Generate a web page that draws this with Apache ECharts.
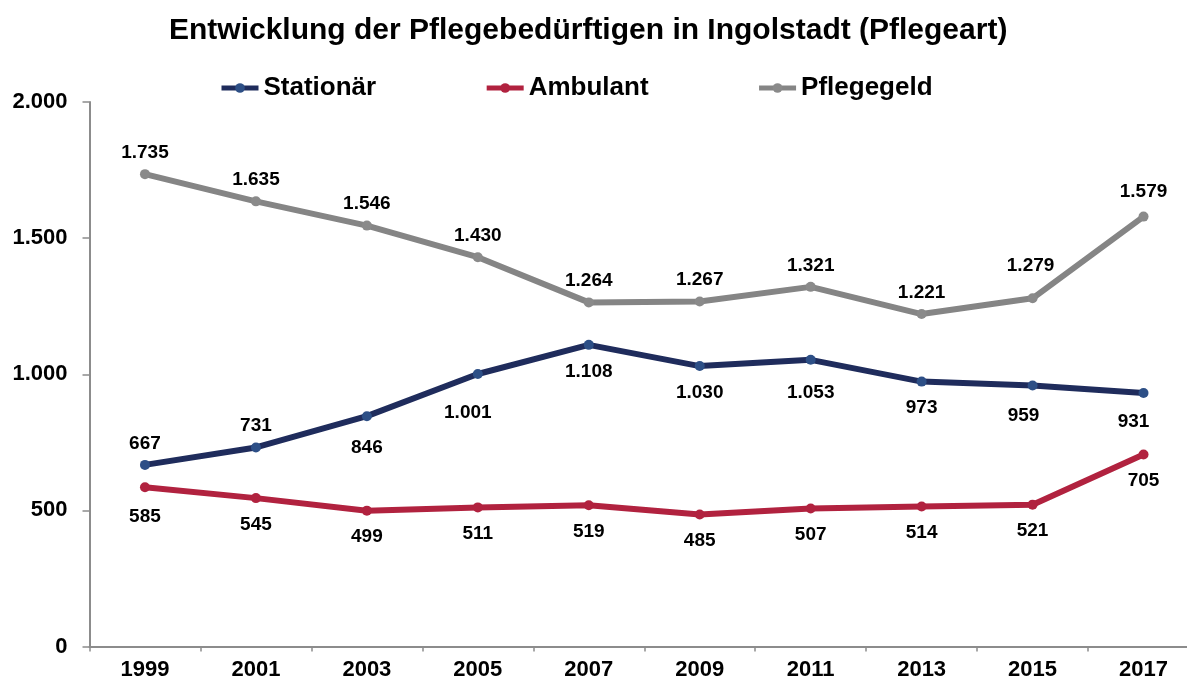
<!DOCTYPE html>
<html>
<head>
<meta charset="utf-8">
<script src="https://cdn.jsdelivr.net/npm/echarts@6/dist/echarts.min.js"></script>
<style>
html,body{margin:0;padding:0;background:#fff;}
#chart{width:1187px;height:683px;}
</style>
</head>
<body>
<div id="chart"></div>
<script>
const years = ['1999','2001','2003','2005','2007','2009','2011','2013','2015','2017'];
const stationaer = [667, 731, 846, 1001, 1108, 1030, 1053, 973, 959, 931];
const ambulant = [585, 545, 499, 511, 519, 485, 507, 514, 521, 705];
const pflegegeld = [1735, 1635, 1546, 1430, 1264, 1267, 1321, 1221, 1279, 1579];
const yTicks = [0, 500, 1000, 1500, 2000];

const FONT = '"Liberation Sans", Arial, sans-serif';
const fmt = v => String(v).replace(/\B(?=(\d{3})+(?!\d))/g, '.');

// label placement tweaks (layout only)
const stationaerAbove = [0, 1];
const labelOffsets = {
  'Stationär': {2: [0, 5], 3: [-10, 12], 6: [0, 6], 8: [-9, 4], 9: [-10, 2]},
  'Ambulant': {0: [0, 3]},
  'Pflegegeld': {8: [-2, -11], 9: [0, -3]}
};

function buildData(name, values, posFn) {
  return values.map((v, i) => {
    const pos = posFn(i);
    const item = {value: v, label: {position: pos, distance: pos === 'top' ? 7 : 12}};
    const off = (labelOffsets[name] || {})[i];
    if (off) item.label.offset = off;
    return item;
  });
}

function makeSeries(name, values, lineColor, markColor, posFn) {
  return {
    name: name,
    type: 'line',
    data: buildData(name, values, posFn),
    symbol: 'circle',
    symbolSize: 10,
    lineStyle: {color: lineColor, width: 6},
    itemStyle: {color: markColor},
    label: {
      show: true,
      formatter: p => fmt(p.value),
      fontFamily: FONT,
      fontWeight: 'bold',
      fontSize: 19,
      color: '#000'
    },
    emphasis: {disabled: true},
    animation: false
  };
}

const chart = echarts.init(document.getElementById('chart'));
chart.setOption({
  backgroundColor: '#fff',
  animation: false,
  title: {
    text: 'Entwicklung der Pflegebedürftigen in Ingolstadt (Pflegeart)',
    left: 164,
    top: 11,
    textStyle: {fontFamily: FONT, fontWeight: 'bold', fontSize: 30, color: '#000'}
  },
  legend: {
    left: 214,
    top: 70,
    itemWidth: 37,
    itemHeight: 12,
    itemGap: 108,
    lineStyle: {width: 5},
    textStyle: {fontFamily: FONT, fontWeight: 'bold', fontSize: 26, color: '#000'},
    data: ['Stationär', 'Ambulant', 'Pflegegeld']
  },
  grid: {left: 89.5, right: -12, top: 102, bottom: 36.5, outerBoundsMode: 'none', containLabel: false},
  xAxis: {
    type: 'category',
    data: years,
    boundaryGap: true,
    axisLine: {lineStyle: {color: '#8c8c8c', width: 2}},
    axisTick: {show: true, length: 5, lineStyle: {color: '#8c8c8c', width: 1.5}},
    axisLabel: {fontFamily: FONT, fontWeight: 'bold', fontSize: 22, color: '#000', margin: 12},
    splitLine: {show: false}
  },
  yAxis: {
    type: 'value',
    min: yTicks[0],
    max: yTicks[yTicks.length - 1],
    interval: yTicks[1] - yTicks[0],
    axisLine: {show: true, lineStyle: {color: '#8c8c8c', width: 2}},
    axisTick: {show: true, length: 7, lineStyle: {color: '#8c8c8c', width: 1.5}},
    axisLabel: {fontFamily: FONT, fontWeight: 'bold', fontSize: 22, color: '#000', margin: 22, formatter: v => fmt(v)},
    splitLine: {show: false}
  },
  series: [
    makeSeries('Stationär', stationaer, '#1f2c5c', '#2d4f86', i => stationaerAbove.includes(i) ? 'top' : 'bottom'),
    makeSeries('Ambulant', ambulant, '#b1223f', '#b1223f', () => 'bottom'),
    makeSeries('Pflegegeld', pflegegeld, '#858585', '#8a8a8a', () => 'top')
  ]
});
</script>
</body>
</html>
